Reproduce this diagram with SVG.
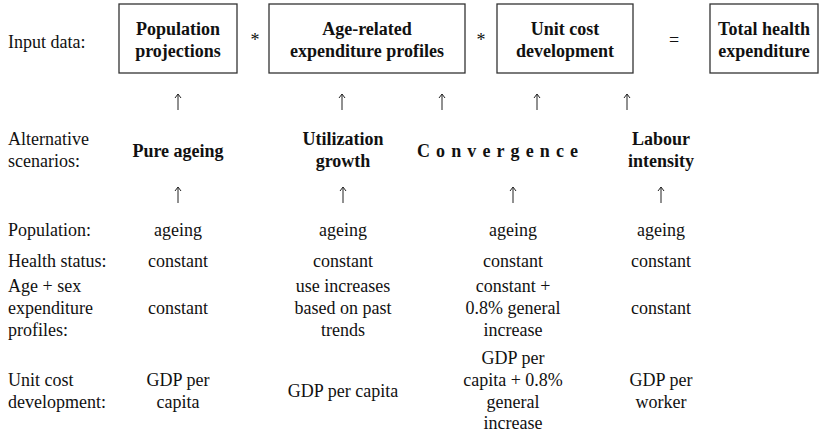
<svg xmlns="http://www.w3.org/2000/svg" width="820" height="433" viewBox="0 0 820 433">
<style>
text{font-family:'Liberation Serif','Times New Roman',serif;font-size:18px;fill:#111}
.b{font-weight:bold}
.c{text-anchor:middle}
.box{fill:#fff;stroke:#333;stroke-width:1.3}
.arr{stroke:#222;stroke-width:1;fill:none}
</style>
<rect width="820" height="433" fill="#fff"/>
<g id="labels">
<text x="8" y="48">Input data:</text>
<text x="8" y="145">Alternative</text>
<text x="8" y="167">scenarios:</text>
<text x="8" y="236">Population:</text>
<text x="8" y="267">Health status:</text>
<text x="8" y="292">Age + sex</text>
<text x="8" y="314">expenditure</text>
<text x="8" y="336">profiles:</text>
<text x="8" y="386">Unit cost</text>
<text x="8" y="408">development:</text>
</g>
<g id="box-population">
<rect class="box" x="119" y="4" width="118" height="69"/>
<text class="b c" x="178" y="35">Population</text>
<text class="b c" x="178" y="57">projections</text>
</g>
<g id="op1"><text class="c" x="255" y="46">*</text></g>
<g id="box-profiles">
<rect class="box" x="269" y="4" width="196" height="69"/>
<text class="b c" x="367" y="35">Age-related</text>
<text class="b c" x="367" y="57">expenditure profiles</text>
</g>
<g id="op2"><text class="c" x="481" y="46">*</text></g>
<g id="box-unitcost">
<rect class="box" x="497" y="4" width="136" height="69"/>
<text class="b c" x="565" y="35">Unit cost</text>
<text class="b c" x="565" y="57">development</text>
</g>
<g id="op3"><text class="c" x="674" y="46">=</text></g>
<g id="box-total">
<rect class="box" x="710" y="4" width="108" height="69"/>
<text class="b c" x="764" y="35">Total health</text>
<text class="b c" x="764" y="57">expenditure</text>
</g>
<g id="scen-pure"><text class="b c" x="178" y="157">Pure ageing</text></g>
<g id="scen-util">
<text class="b c" x="343" y="145">Utilization</text>
<text class="b c" x="343" y="167">growth</text>
</g>
<g id="scen-conv"><text class="b" x="417" y="157" letter-spacing="6.1">Convergence</text></g>
<g id="scen-labour">
<text class="b c" x="661" y="145">Labour</text>
<text class="b c" x="661" y="167">intensity</text>
</g>
<g id="col-pure">
<text class="c" x="178" y="236">ageing</text>
<text class="c" x="178" y="267">constant</text>
<text class="c" x="178" y="314">constant</text>
<text class="c" x="178" y="386">GDP per</text>
<text class="c" x="178" y="408">capita</text>
</g>
<g id="col-util">
<text class="c" x="343" y="236">ageing</text>
<text class="c" x="343" y="267">constant</text>
<text class="c" x="343" y="292">use increases</text>
<text class="c" x="343" y="314">based on past</text>
<text class="c" x="343" y="336">trends</text>
<text class="c" x="343" y="397">GDP per capita</text>
</g>
<g id="col-conv">
<text class="c" x="513" y="236">ageing</text>
<text class="c" x="513" y="267">constant</text>
<text class="c" x="513" y="292">constant +</text>
<text class="c" x="513" y="314">0.8% general</text>
<text class="c" x="513" y="336">increase</text>
<text class="c" x="513" y="364">GDP per</text>
<text class="c" x="513" y="386">capita + 0.8%</text>
<text class="c" x="513" y="408">general</text>
<text class="c" x="513" y="429">increase</text>
</g>
<g id="col-labour">
<text class="c" x="661" y="236">ageing</text>
<text class="c" x="661" y="267">constant</text>
<text class="c" x="661" y="314">constant</text>
<text class="c" x="661" y="386">GDP per</text>
<text class="c" x="661" y="408">worker</text>
</g>
<g id="connectors" class="arr">
<path d="M178,110 V94 M175,98 L178,94 L181,98"/>
<path d="M342,110 V94 M339,98 L342,94 L345,98"/>
<path d="M442,110 V94 M439,98 L442,94 L445,98"/>
<path d="M537,110 V94 M534,98 L537,94 L540,98"/>
<path d="M627,110 V94 M624,98 L627,94 L630,98"/>
<path d="M178,203 V187 M175,191 L178,187 L181,191"/>
<path d="M343,203 V187 M340,191 L343,187 L346,191"/>
<path d="M513,203 V187 M510,191 L513,187 L516,191"/>
<path d="M661,203 V187 M658,191 L661,187 L664,191"/>
</g>
</svg>
